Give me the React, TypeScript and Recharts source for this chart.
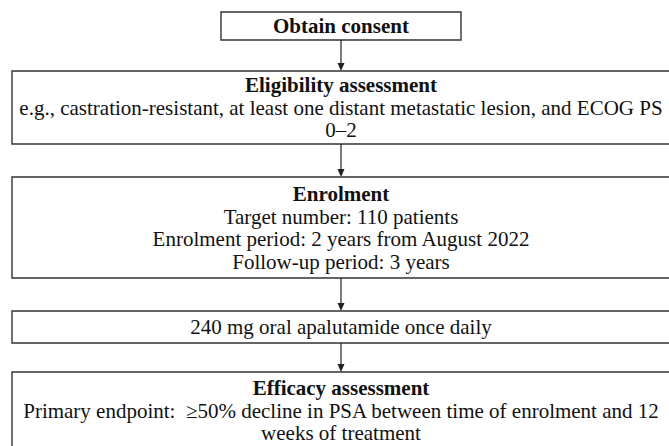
import { ComposedChart, XAxis, YAxis, ReferenceArea, ReferenceLine, ReferenceDot } from 'recharts'

// flowchart content
const stepTitles = ['Obtain consent', 'Eligibility assessment', 'Enrolment', '', 'Efficacy assessment']
const stepLines = [
  [],
  ['e.g., castration-resistant, at least one distant metastatic lesion, and ECOG PS', '0\u20132'],
  ['Target number: 110 patients', 'Enrolment period: 2 years from August 2022', 'Follow-up period: 3 years'],
  ['240 mg oral apalutamide once daily'],
  ['Primary endpoint:  \u226550% decline in PSA between time of enrolment and 12', 'weeks of treatment'],
]

// box layout in page pixels (x1, x2, top, bottom)
const boxX1 = [221, 12, 12, 12, 12]
const boxX2 = [461, 670, 670, 670, 670]
const boxTop = [12, 71, 177, 311, 372]
const boxBottom = [40, 144, 278, 343, 460]

const W = 669
const H = 446
const ARROW_X = 341
const FONT = "'Liberation Serif', 'Times New Roman', Tinos, serif"
const FONT_SIZE = 21
const LINE_H = 22.5

const BoxLabel = ({ viewBox, title, lines }: any) => {
  if (!viewBox) return null
  const all = [
    ...(title ? [{ t: title, bold: true }] : []),
    ...lines.map((l: string) => ({ t: l, bold: false })),
  ]
  const cx = 341
  const top = viewBox.y
  // last box runs off the page, so centre its text on the visible part
  const bh = title === 'Efficacy assessment' ? 77 : viewBox.height
  const cy = top + bh / 2
  const start = cy - ((all.length - 1) * LINE_H) / 2
  return (
    <text
      x={cx}
      style={{ fontFamily: FONT, fontSize: FONT_SIZE, whiteSpace: 'pre' }}
      fill="#111"
      textAnchor="middle"
    >
      {all.map((a, i) => (
        <tspan key={i} x={cx} y={start + i * LINE_H} dy="0.35em" style={{ fontWeight: a.bold ? 700 : 400 }}>
          {a.t}
        </tspan>
      ))}
    </text>
  )
}

const ArrowHead = ({ cx, cy }: any) => (
  <path d={`M${cx - 3.5},${cy - 8} L${cx + 3.5},${cy - 8} L${cx},${cy} Z`} fill="#222" />
)

export default function App() {
  return (
    <div style={{ position: 'fixed', left: 0, top: 0, width: W, height: H, background: '#fff' }}>
      <ComposedChart width={W} height={H} data={[]} margin={{ top: 0, right: 0, bottom: 0, left: 0 }}>
        <XAxis type="number" dataKey="x" domain={[0, W]} hide allowDataOverflow />
        <YAxis type="number" dataKey="y" domain={[0, H]} reversed hide allowDataOverflow />
        {stepTitles.map((title, i) => (
          <ReferenceArea
            key={`box-${i}`}
            x1={boxX1[i]}
            x2={boxX2[i]}
            y1={boxTop[i]}
            y2={boxBottom[i]}
            ifOverflow="visible"
            fill="#fff"
            fillOpacity={1}
            stroke="#333"
            strokeWidth={1.4}
            label={<BoxLabel title={title} lines={stepLines[i]} />}
          />
        ))}
        {boxTop.slice(1).map((t, i) => (
          <ReferenceLine
            key={`arrow-${i}`}
            segment={[{ x: ARROW_X, y: boxBottom[i] }, { x: ARROW_X, y: t - 6 }]}
            stroke="#222"
            strokeWidth={1.2}
            ifOverflow="visible"
          />
        ))}
        {boxTop.slice(1).map((t, i) => (
          <ReferenceDot key={`head-${i}`} x={ARROW_X} y={t} ifOverflow="visible" shape={<ArrowHead />} />
        ))}
      </ComposedChart>
    </div>
  )
}
